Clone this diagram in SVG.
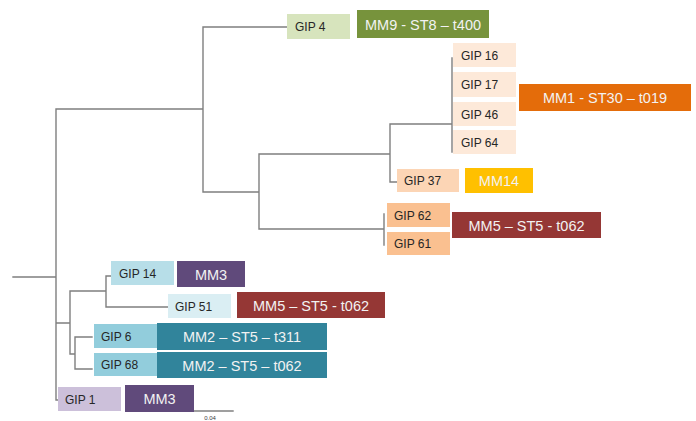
<svg xmlns="http://www.w3.org/2000/svg" width="696" height="421" viewBox="0 0 696 421">
<style>
.e{stroke:#7f7f7f;stroke-width:1.4;fill:none;stroke-linecap:square}
.g{font-family:"Liberation Sans",Arial,sans-serif;font-size:12px;fill:#262626}
.m{font-family:"Liberation Sans",Arial,sans-serif;font-size:14.5px;fill:#f2f2f2;text-anchor:middle}
.s{font-family:"Liberation Sans",Arial,sans-serif;font-size:6px;fill:#404040;text-anchor:middle}
</style>
<rect width="696" height="421" fill="#ffffff"/>
<g id="connectors">
<path class="e" d="M13,277H56M56,109V400M56,109H203M203,27V192M203,27H287M203,192H259M259,154V229M259,154H390M390,124V182M390,124H452M452,58V152M390,182H397M259,229H384M384,214V245M56,323H70M70,291V354M70,291H106M106,276V307M106,276H111M106,307H168M70,354H75M75,337V369M75,337H92M75,369H92M56,400H58"/>
<path class="e" d="M194,411H233"/>
</g>
<g id="gip4"><rect x="287" y="14" width="63" height="25" fill="#d7e4bd"/><text class="g" x="295" y="31">GIP 4</text></g>
<g id="mm9"><rect x="357" y="10" width="132" height="28" fill="#77933c"/><text class="m" x="423" y="29.5">MM9 - ST8 – t400</text></g>
<g id="gip16"><rect x="453" y="43" width="63" height="24" fill="#fde9d9"/><text class="g" x="461" y="59.5">GIP 16</text></g>
<g id="gip17"><rect x="453" y="72" width="63" height="25" fill="#fde9d9"/><text class="g" x="461" y="88.5">GIP 17</text></g>
<g id="gip46"><rect x="453" y="102" width="63" height="24" fill="#fde9d9"/><text class="g" x="461" y="118.5">GIP 46</text></g>
<g id="gip64"><rect x="453" y="130" width="63" height="24" fill="#fde9d9"/><text class="g" x="461" y="146.5">GIP 64</text></g>
<g id="mm1"><rect x="519" y="84" width="172" height="27" fill="#e46c0a"/><text class="m" x="605" y="102.5">MM1 - ST30 – t019</text></g>
<g id="gip37"><rect x="397" y="169" width="62" height="23" fill="#fcd5b5"/><text class="g" x="404" y="185">GIP 37</text></g>
<g id="mm14"><rect x="465" y="168" width="68" height="25" fill="#ffc000"/><text class="m" x="499" y="185.5">MM14</text></g>
<g id="gip62"><rect x="387" y="203" width="63" height="24" fill="#fac090"/><text class="g" x="394" y="219.5">GIP 62</text></g>
<g id="gip61"><rect x="387" y="232" width="63" height="23" fill="#fac090"/><text class="g" x="394" y="248">GIP 61</text></g>
<g id="mm5a"><rect x="452" y="212" width="149" height="26" fill="#953735"/><text class="m" x="526.5" y="230.5">MM5 – ST5 - t062</text></g>
<g id="gip14"><rect x="111" y="261" width="63" height="24" fill="#b7dee8"/><text class="g" x="119" y="277.5">GIP 14</text></g>
<g id="mm3a"><rect x="177" y="261" width="68" height="26" fill="#604a7b"/><text class="m" x="211" y="279.5">MM3</text></g>
<g id="gip51"><rect x="168" y="294" width="63" height="24" fill="#daeef3"/><text class="g" x="175" y="311">GIP 51</text></g>
<g id="mm5b"><rect x="237" y="292" width="148" height="26" fill="#953735"/><text class="m" x="311" y="310.5">MM5 – ST5 - t062</text></g>
<g id="gip6"><rect x="94" y="324" width="63" height="24" fill="#92cddc"/><text class="g" x="101" y="340.5">GIP 6</text></g>
<g id="mm2a"><rect x="157" y="323" width="170" height="27" fill="#31849b"/><text class="m" x="242" y="341.5">MM2 – ST5 – t311</text></g>
<g id="gip68"><rect x="94" y="353" width="63" height="23" fill="#92cddc"/><text class="g" x="101" y="369">GIP 68</text></g>
<g id="mm2b"><rect x="157" y="352" width="170" height="26" fill="#31849b"/><text class="m" x="242" y="370.5">MM2 – ST5 – t062</text></g>
<g id="gip1"><rect x="58" y="387" width="63" height="24" fill="#ccc0da"/><text class="g" x="65" y="404">GIP 1</text></g>
<g id="mm3b"><rect x="125" y="385" width="69" height="27" fill="#604a7b"/><text class="m" x="159.5" y="404">MM3</text></g>
<g id="scale"><text class="s" x="210" y="420">0.04</text></g>
</svg>
